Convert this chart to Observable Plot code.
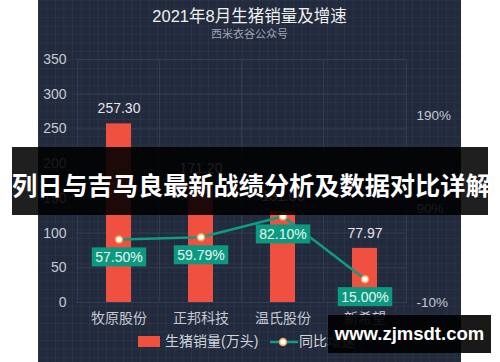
<!DOCTYPE html>
<html><head><meta charset="utf-8">
<script src="https://cdn.jsdelivr.net/npm/d3@7"></script>
<script src="https://cdn.jsdelivr.net/npm/@observablehq/plot@0.6"></script>
<style>
html,body{margin:0;padding:0;background:#fff;width:500px;height:362px;overflow:hidden;font-family:"Liberation Sans","Noto Sans CJK SC",sans-serif;}
#panel{position:absolute;left:38px;top:0;width:423px;height:362px;background-color:#222a3d;
background-image:linear-gradient(rgba(255,255,255,0.035) 1px,transparent 1px),linear-gradient(90deg,rgba(255,255,255,0.035) 1px,transparent 1px);
background-size:8.5px 8.5px;}
#title{position:absolute;left:0;width:423px;top:6px;text-align:center;color:#f0f0f0;font-size:16.5px;line-height:20px;}
#sub{position:absolute;left:0;width:423px;top:27px;text-align:center;color:#9ea4b2;font-size:11px;line-height:14px;}
#chart{position:absolute;left:0;top:45px;}
.lg{position:absolute;color:#d0d4dc;font-size:14px;line-height:16px;white-space:nowrap;}
#banner{position:absolute;left:12px;top:147px;width:476px;height:68px;background:rgba(0,0,0,0.88);color:#fff;font-family:"Noto Sans CJK SC",sans-serif;font-weight:bold;font-size:25.2px;line-height:68px;text-align:center;white-space:nowrap;overflow:visible;padding-top:3px;box-sizing:border-box;}
#wm{position:absolute;left:328px;top:315px;width:163px;height:38px;background:rgba(0,0,0,0.9);color:#fff;font-family:"Liberation Sans",sans-serif;font-weight:bold;font-size:18.5px;line-height:38px;text-align:center;white-space:nowrap;}
</style></head>
<body>
<div id="panel">
  <div id="title">2021年8月生猪销量及增速</div>
  <div id="sub">西米衣谷公众号</div>
  <div id="chart"></div>
  <div class="lg" style="left:100px;top:336px;width:22px;height:11px;background:#ef5040;"></div>
  <div class="lg" style="left:127px;top:333px;">生猪销量(万头)</div>
  <svg class="lg" style="left:232px;top:335px;" width="28" height="14"><line x1="0" y1="7" x2="28" y2="7" stroke="#0f9b84" stroke-width="2.5"/><circle cx="13" cy="7" r="3.5" fill="#fff" stroke="#f0a456" stroke-width="1.5"/></svg>
  <div class="lg" style="left:261px;top:333px;">同比增速</div>
</div>
<div id="banner">列日与吉马良最新战绩分析及数据对比详解</div>
<div id="wm">www.zjmsdt.com</div>
<script>
const names = ["牧原股份", "正邦科技", "温氏股份", "新希望"];
const sales = [257.30, 171.20, 131.06, 77.97];
const growth = [57.50, 59.79, 82.10, 15.00];
const leftTicks = [0, 50, 100, 150, 200, 250, 300, 350];
const rightTicks = [-10, 90, 190];

const rightMin = -10, rightMax = 250, leftMax = 350;
const toLeft = v => (v - rightMin) * leftMax / (rightMax - rightMin);

const data = names.map((n, i) => ({name: n, sales: sales[i], growth: growth[i]}));

const W = 423, H = 290, mL = 38, mR = 54, mT = 14, mB = 33;
const step = (W - mL - mR) / names.length;
const gridColor = "#333e55";

const chart = Plot.plot({
  width: W, height: H,
  marginLeft: mL, marginRight: mR, marginTop: mT, marginBottom: mB,
  style: {background: "transparent", fontFamily: "Liberation Sans, Noto Sans CJK SC, sans-serif"},
  x: {domain: names, paddingInner: 0.7, paddingOuter: 0.35, label: null},
  y: {domain: [0, leftMax], label: null},
  marks: [
    Plot.gridY(leftTicks, {stroke: gridColor, strokeOpacity: 1}),
    Plot.ruleX(names, {x: d => d, dx: -step / 2, stroke: gridColor}),
    Plot.ruleX([names[names.length - 1]], {x: d => d, dx: step / 2, stroke: gridColor}),
    Plot.axisY(leftTicks, {tickSize: 0, tickPadding: 10, fontSize: 14, fill: "#c5c9d2", label: null}),
    Plot.axisY(rightTicks.map(toLeft), {anchor: "right", tickSize: 0, tickPadding: 9, fontSize: 13.5, fill: "#c5c9d2", textAnchor: "start", tickFormat: (d, i) => rightTicks[i] + "%", label: null}),
    Plot.axisX({tickSize: 0, tickPadding: 11, fontSize: 14, fill: "#c5c9d2", label: null}),
    Plot.barY(data, {x: "name", y: "sales", fill: "#ef5040"}),
    Plot.text(data, {x: "name", y: "sales", text: d => d.sales.toFixed(2), dy: -15, fill: "#e6e6e6", fontSize: 14}),
    Plot.line(data, {x: "name", y: d => toLeft(d.growth), stroke: "#0f9b84", strokeWidth: 2.5}),
    Plot.dot(data, {x: "name", y: d => toLeft(d.growth), r: 3.5, fill: "#fff", stroke: "#f0a456", strokeWidth: 1.5}),
    Plot.text(data, {x: "name", y: d => toLeft(d.growth), text: d => d.growth.toFixed(2) + "%", dy: 18, fill: "#eaf6f2", fontSize: 14})
  ]
});
document.getElementById("chart").appendChild(chart);

// teal boxes behind growth labels
const textGroups = chart.querySelectorAll('g[aria-label="text"]');
const lab = textGroups[textGroups.length - 1];
lab.querySelectorAll("text").forEach(t => {
  const b = t.getBBox();
  const r = document.createElementNS("http://www.w3.org/2000/svg", "rect");
  r.setAttribute("x", b.x - 3.5);
  r.setAttribute("y", b.y + b.height / 2 - 9.5);
  r.setAttribute("width", b.width + 7);
  r.setAttribute("height", 19);
  r.setAttribute("fill", "#0b9a80");
  if (t.getAttribute("transform")) r.setAttribute("transform", t.getAttribute("transform"));
  t.parentNode.insertBefore(r, t);
});
</script>
</body></html>
